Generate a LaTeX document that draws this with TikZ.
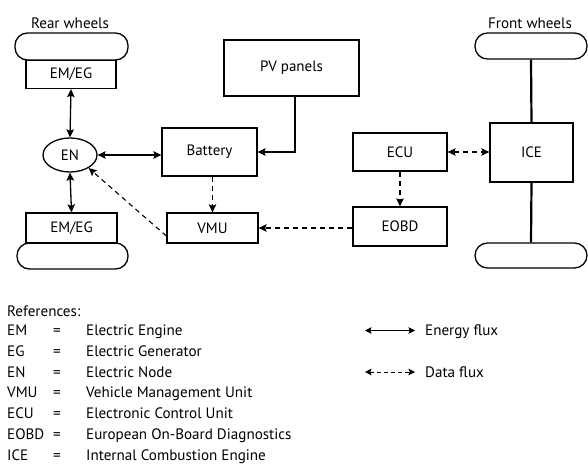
\documentclass[tikz,border=0pt]{standalone}
\usepackage{fontspec}
\setmainfont{PT Sans}
\usetikzlibrary{arrows.meta,shapes.geometric,calc}
\tikzset{
  >={Stealth[length=8pt,width=7.5pt,inset=1.5pt]},
  box/.style={draw,line width=1.3pt,inner sep=0pt,font=\fontsize{15}{17}\selectfont},
  wheel/.style={draw,line width=1.3pt,rounded corners=12.5pt,inner sep=0pt},
  flow/.style={line width=1.3pt,<->},
  data/.style={line width=1.1pt,dash pattern=on 5pt off 4pt},
  axle/.style={line width=2.2pt},
  legarrow/.style={line width=1pt,{Stealth[length=6.5pt,width=6.5pt,inset=1.2pt]}-{Stealth[length=6.5pt,width=6.5pt,inset=1.2pt]}},
  txt/.style={font=\fontsize{15.1}{17}\selectfont,inner sep=0pt,anchor=base west},
}
\begin{document}
\begin{tikzpicture}[x=1pt,y=-1pt]
\useasboundingbox (0,0) rectangle (588,465);
% wheels
\node[wheel,minimum width=113pt,minimum height=27pt] (rwt) at (71.5,46.5) {};
\node[wheel,minimum width=111pt,minimum height=26pt] (rwb) at (72.5,256) {};
\node[wheel,minimum width=112pt,minimum height=26pt] (fwt) at (531,46) {};
\node[wheel,minimum width=112pt,minimum height=25pt] (fwb) at (531,255.5) {};
\node[txt,anchor=base] (rwl) at (70,29) {Rear wheels};
\node[txt,anchor=base] (fwl) at (530,29) {Front wheels};
% boxes
\node[box,minimum width=90pt,minimum height=28pt] (emt) at (71,74.5) {EM/EG};
\node[box,ellipse,minimum width=54pt,minimum height=34pt] (en) at (70,155) {EN};
\node[box,minimum width=91pt,minimum height=30pt] (emb) at (71.5,228) {EM/EG};
\node[box,minimum width=95pt,minimum height=48pt] (bat) at (209.5,152) {Battery};
\node[box,minimum width=135pt,minimum height=56pt] (pv) at (291.5,68) {PV panels};
\node[box,minimum width=91pt,minimum height=30pt] (vmu) at (212.5,228) {VMU};
\node[box,minimum width=94pt,minimum height=38pt] (ecu) at (400,152) {ECU};
\node[box,minimum width=94pt,minimum height=39pt] (eobd) at (400,226.5) {EOBD};
\node[box,minimum width=83pt,minimum height=59pt] (ice) at (531.5,152.5) {ICE};
% energy connectors
\draw[flow] (emt.south) -- (en.north);
\draw[flow] (en.south) -- (emb.north);
\draw[flow] (en.east) -- (en.east -| bat.west);
\coordinate (pvd) at (295,0);
\draw[line width=1.3pt,->] (pv.south -| pvd) |- (bat.east);
\draw[axle] (fwt.south) -- (ice.north);
\draw[axle] (ice.south) -- (fwb.north);
% data connectors
\draw[data,->] (bat.south -| vmu.north) -- (vmu.north);
\draw[data,->] ([yshift=-8pt]vmu.west) -- (en.-35);
\draw[data,->] (eobd.west |- vmu.east) -- (vmu.east);
\draw[data,<->] (ecu.east) -- (ecu.east -| ice.west);
\draw[data,->] (ecu.south) -- (eobd.north);
% legend
\node[txt] (refs) at (7,316) {References:};
\foreach \ab/\me [count=\i from 0] in {EM/Electric Engine,EG/Electric Generator,EN/Electric Node,VMU/Vehicle Management Unit,ECU/Electronic Control Unit,EOBD/European On-Board Diagnostics,ICE/Internal Combustion Engine}{
  \node[txt] (ab\i) at (7,335.5+20.8*\i) {\ab};
  \node[txt] (eq\i) at (53,335.5+20.8*\i) {=};
  \node[txt] (me\i) at (86,335.5+20.8*\i) {\me};
}
\coordinate (l1a) at (365,330.5);
\coordinate (l1b) at (415,330.5);
\coordinate (l2a) at (365,372);
\coordinate (l2b) at (415,372);
\draw[legarrow] (l1a) -- (l1b);
\draw[legarrow,dash pattern=on 4pt off 3pt] (l2a) -- (l2b);
\node[txt] (lg1) at (425,335.5) {Energy flux};
\node[txt] (lg2) at (425,377.1) {Data flux};
\end{tikzpicture}
\end{document}
